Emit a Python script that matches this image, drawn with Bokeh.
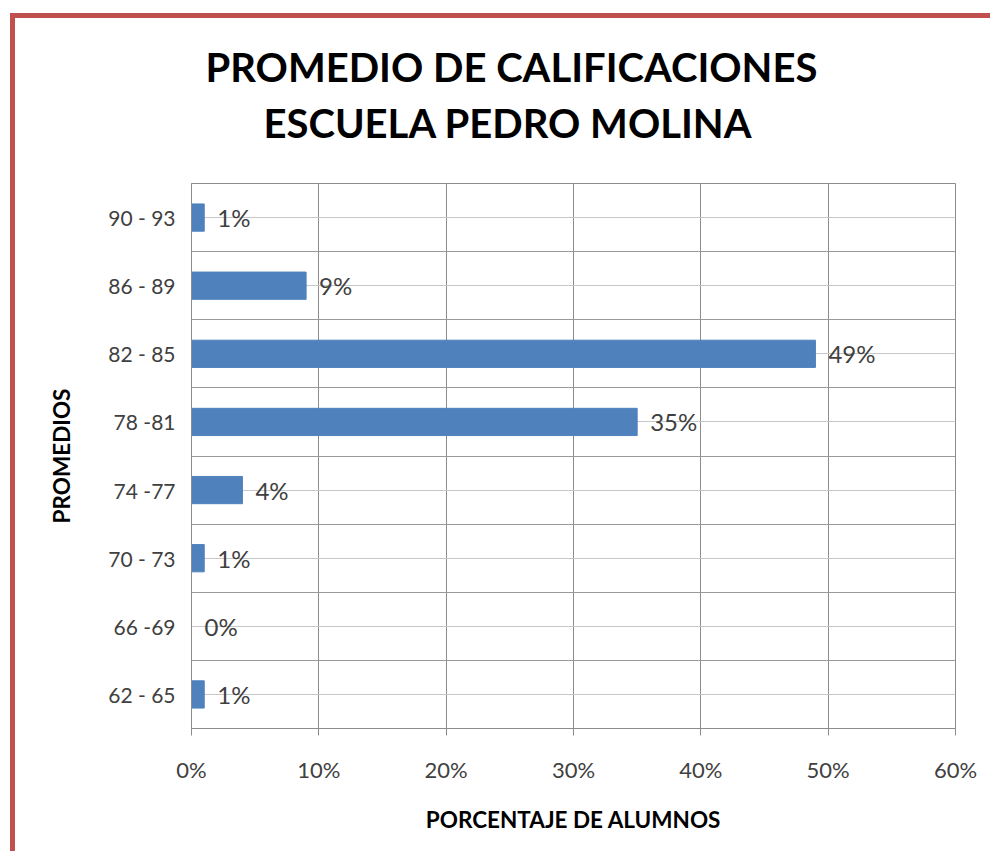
from bokeh.plotting import figure
from bokeh.models import Range1d, FixedTicker, Title, ColumnDataSource, NumeralTickFormatter
from bokeh.core.properties import value
from bokeh.embed import file_html
from bokeh.resources import INLINE

# ---- data (bottom to top) ----
categories = ["62 - 65", "66 -69", "70 - 73", "74 -77", "78 -81", "82 - 85", "86 - 89", "90 - 93"]
percentages = [0.01, 0.00, 0.01, 0.04, 0.35, 0.49, 0.09, 0.01]
value_labels = ["1%", "0%", "1%", "4%", "35%", "49%", "9%", "1%"]
x_ticks = [0.0, 0.1, 0.2, 0.3, 0.4, 0.5, 0.6]
title_lines = ["PROMEDIO DE CALIFICACIONES", "ESCUELA PEDRO MOLINA"]
x_title = "PORCENTAJE DE ALUMNOS"
y_title = "PROMEDIOS"

positions = [i + 0.5 for i in range(len(categories))]
boundaries = [float(i) for i in range(len(categories) + 1)]

source = ColumnDataSource(dict(y=positions, pct=percentages, label=value_labels, cat=categories))

FONT = "Lato"
GRID = "#8C8C8C"

p = figure(width=980, height=838,
           x_range=Range1d(0, 0.6), y_range=Range1d(0, len(categories)),
           output_backend="svg", toolbar_location=None,
           min_border_left=176, min_border_right=40,
           min_border_top=165, min_border_bottom=128)
p.styles = {"margin-top": "13px", "margin-left": "10px",
            "border-top": "5px solid #C0504D", "border-left": "5px solid #C0504D"}
p.background_fill_color = "white"
p.border_fill_color = "white"
p.outline_line_color = GRID

# x axis
p.xaxis.ticker = FixedTicker(ticks=x_ticks)
p.xaxis.formatter = NumeralTickFormatter(format="0%")
p.xaxis.axis_label = x_title
p.xaxis.axis_label_text_font = FONT
p.xaxis.axis_label_text_font_style = "bold"
p.xaxis.axis_label_text_font_size = "22.5px"
p.xaxis.axis_label_text_color = "#000000"
p.xaxis.axis_label_standoff = 20
p.xaxis.major_label_text_font = FONT
p.xaxis.major_label_text_font_size = "22px"
p.xaxis.major_label_text_color = "#404040"
p.xaxis.major_label_standoff = 20
p.xaxis.major_tick_out = 7
p.xaxis.major_tick_in = 0
p.xaxis.major_tick_line_color = GRID
p.xaxis.minor_tick_line_color = None
p.xaxis.axis_line_color = GRID

# y axis
p.yaxis.ticker = FixedTicker(ticks=positions, minor_ticks=boundaries)
p.yaxis.major_label_overrides = {pos: cat for pos, cat in zip(positions, categories)}
p.yaxis.axis_label = y_title
p.yaxis.axis_label_text_font = FONT
p.yaxis.axis_label_text_font_style = "bold"
p.yaxis.axis_label_text_font_size = "22.5px"
p.yaxis.axis_label_text_color = "#000000"
p.yaxis.axis_label_standoff = 30
p.yaxis.major_label_text_font = FONT
p.yaxis.major_label_text_font_size = "21px"
p.yaxis.major_label_text_color = "#404040"
p.yaxis.major_label_standoff = 10
p.yaxis.major_tick_line_color = None
p.yaxis.minor_tick_line_color = None
p.yaxis.axis_line_color = GRID

# grids
p.xgrid.grid_line_color = GRID
p.ygrid.grid_line_color = "#C8C8C8"
p.ygrid.minor_grid_line_color = "#9A9A9A"

# bars and labels
p.hbar(y="y", left=0, right="pct", height=0.4, source=source,
       fill_color="#4F81BD", line_color="#4F81BD")
p.text(x="pct", y="y", text="label", source=source, x_offset=13,
       text_align="left", text_baseline="middle",
       text_font=value(FONT), text_font_size="24px", text_color="#404040")

# title: spacer next to the frame, then line 2, then line 1 (stacked upward)
p.add_layout(Title(text=" ", text_font_size="1px", standoff=34), "above")
p.add_layout(Title(text=title_lines[1], align="left", offset=72, standoff=0,
                   text_font=FONT, text_font_style="bold", text_font_size="40px",
                   text_color="#000000"), "above")
p.add_layout(Title(text=title_lines[0], align="left", offset=14, standoff=12,
                   text_font=FONT, text_font_style="bold", text_font_size="40px",
                   text_color="#000000"), "above")

open("out.html", "w").write(file_html(p, INLINE))
